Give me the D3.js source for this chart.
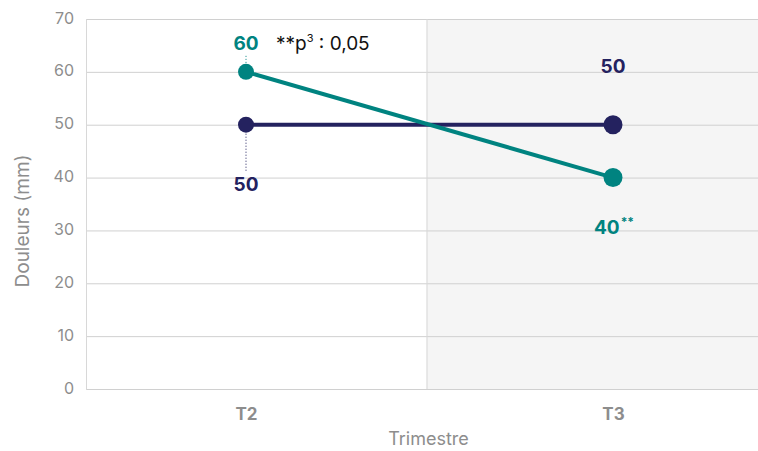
<!DOCTYPE html>
<html>
<head>
<meta charset="utf-8">
<script src="https://cdn.jsdelivr.net/npm/d3@7"></script>
<style>
  body { margin: 0; background: #fff; }
  svg { display: block; font-family: Inter, "Noto Sans", sans-serif; }
</style>
</head>
<body>
<svg id="chart" width="758" height="451"></svg>
<script>
// data
var trimestres = ['T2', 'T3'];
var serieA = [50, 50];   // navy
var serieB = [60, 40];   // teal
var yTicks = [0, 10, 20, 30, 40, 50, 60, 70];
var labelsA = ['50', '50'];
var labelsB = ['60', '40'];

var navy = '#24225f';
var teal = '#008380';
var grey = '#8d8d8d';
var font = 'Inter, sans-serif';

var svg = d3.select('#chart');
// note: "top" clashes with window.top, so keep these prefixed
var plotLeft = 86, plotRight = 758, plotTop = 19, plotBottom = 389;

var x = d3.scalePoint().domain(trimestres).range([246, 613]);
var y = d3.scaleLinear().domain([0, 70]).range([plotBottom, plotTop]);

var mid = (x('T2') + x('T3')) / 2 - 3;

// shaded second period
svg.append('rect')
  .attr('x', mid).attr('y', plotTop)
  .attr('width', plotRight - mid).attr('height', plotBottom - plotTop)
  .attr('fill', '#f5f5f5');

// grid
svg.append('g')
  .selectAll('line')
  .data(yTicks)
  .enter().append('line')
  .attr('x1', plotLeft).attr('x2', plotRight)
  .attr('y1', function(d) { return y(d) + 0.5; })
  .attr('y2', function(d) { return y(d) + 0.5; })
  .attr('stroke', '#d0d0d0')
  .attr('stroke-width', 1);

svg.append('line')
  .attr('x1', plotLeft + 0.5).attr('x2', plotLeft + 0.5)
  .attr('y1', plotTop).attr('y2', plotBottom + 1)
  .attr('stroke', '#d8d8d8');
svg.append('line')
  .attr('x1', mid + 0.5).attr('x2', mid + 0.5)
  .attr('y1', plotTop).attr('y2', plotBottom)
  .attr('stroke', '#d8d8d8');

// y axis labels
var yAxis = d3.axisLeft(y).tickValues(yTicks).tickSize(0).tickPadding(12);
var gy = svg.append('g').attr('transform', 'translate(' + plotLeft + ',0)').call(yAxis);
gy.select('.domain').remove();
gy.selectAll('text')
  .attr('dy', '0.25em')
  .style('font-size', '16px')
  .style('fill', grey)
  .style('font-family', font);

// x axis labels
var xAxis = d3.axisBottom(x).tickSize(0).tickPadding(19);
var gx = svg.append('g').attr('transform', 'translate(0,' + plotBottom + ')').call(xAxis);
gx.select('.domain').remove();
gx.selectAll('text')
  .style('font-size', '17px')
  .style('font-weight', 'bold')
  .style('fill', grey)
  .style('font-family', font);

// axis titles
svg.append('text')
  .attr('transform', 'translate(29,' + 221 + ') rotate(-90)')
  .attr('text-anchor', 'middle')
  .style('font-size', '19px')
  .style('fill', grey)
  .text('Douleurs (mm)');

svg.append('text')
  .attr('x', mid + 2)
  .attr('y', 445)
  .attr('text-anchor', 'middle')
  .style('font-size', '18px')
  .style('fill', grey)
  .text('Trimestre');

// dotted leaders at T2
svg.append('line')
  .attr('x1', x('T2')).attr('x2', x('T2'))
  .attr('y1', y(serieB[0]) - 16).attr('y2', y(serieB[0]) - 4)
  .attr('stroke', teal).attr('stroke-width', 1).attr('stroke-dasharray', '1,2');
svg.append('line')
  .attr('x1', x('T2')).attr('x2', x('T2'))
  .attr('y1', y(serieA[0]) + 6).attr('y2', y(serieA[0]) + 46)
  .attr('stroke', navy).attr('stroke-width', 1).attr('stroke-dasharray', '1,2');

// lines + dots
var line = d3.line()
  .x(function(d, i) { return x(trimestres[i]); })
  .y(function(d) { return y(d); });

[[serieA, navy], [serieB, teal]].forEach(function(s) {
  svg.append('path')
    .attr('d', line(s[0]))
    .attr('fill', 'none')
    .attr('stroke', s[1])
    .attr('stroke-width', 4);
  svg.selectAll(null)
    .data(s[0])
    .enter().append('circle')
    .attr('cx', function(d, i) { return x(trimestres[i]); })
    .attr('cy', function(d) { return y(d); })
    .attr('r', function(d, i) { return i === 0 ? 8 : 9.5; })
    .attr('fill', s[1]);
});

// value labels
function valLabel(px, py, txt, col) {
  return svg.append('text')
    .attr('x', px).attr('y', py)
    .attr('text-anchor', 'middle')
    .style('font-size', '19px')
    .style('font-weight', 'bold')
    .style('fill', col)
    .text(txt);
}
valLabel(x('T2'), y(serieB[0]) - 22, labelsB[0], teal);
valLabel(x('T2'), y(serieA[0]) + 66, labelsA[0], navy);
valLabel(x('T3'), y(serieA[1]) - 52, labelsA[1], navy);
var l40 = valLabel(x('T3') + 1, y(serieB[1]) + 56, labelsB[1], teal);
l40.append('tspan')
  .attr('dy', -8)
  .attr('dx', 1)
  .style('font-size', '12px')
  .text('**');

// significance note
var nt = svg.append('text')
  .attr('x', 276)
  .attr('y', y(serieB[0]) - 22)
  .style('font-size', '19px')
  .style('fill', '#111')
  .text('**p');
nt.append('tspan').attr('dy', -8).style('font-size', '11px').text('3');
nt.append('tspan').attr('dy', 8).text(' : 0,05');
</script>
</body>
</html>
